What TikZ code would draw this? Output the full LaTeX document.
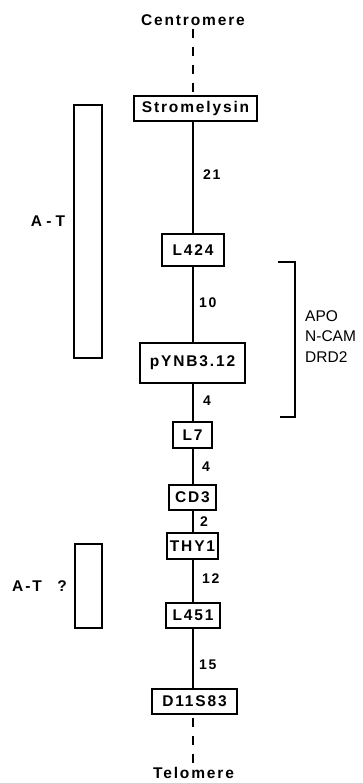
\documentclass[tikz,border=0pt]{standalone}
\usepackage{fontspec}
\setmainfont{Liberation Sans}
\newfontfamily\spaced[LetterSpace=12]{Liberation Sans}
\begin{document}
\begin{tikzpicture}[x=1pt,y=-1pt,
  gene/.style={draw,line width=1.8pt,inner sep=0pt,font=\spaced\bfseries\fontsize{15.5}{18}\selectfont},
  dist/.style={inner sep=0pt,anchor=west,font=\spaced\bfseries\fontsize{14}{16}\selectfont},
  endlbl/.style={inner sep=0pt,font=\spaced\bfseries\fontsize{15.5}{18}\selectfont},
  locus/.style={inner sep=0pt,anchor=west,font=\fontsize{15.5}{18}\selectfont},
  region/.style={draw,line width=1.4pt},
  atlbl/.style={inner sep=0pt,font=\bfseries\fontsize{15.5}{18}\selectfont},
  atsp/.style={inner sep=0pt,font=\spaced\bfseries\fontsize{15.5}{18}\selectfont},
  link/.style={line width=1.4pt},
  dlink/.style={line width=1.8pt,dash pattern=on 9pt off 9pt}]
\useasboundingbox (0,0) rectangle (362,783);
\coordinate (spine) at (193,0);
% end labels
\node[endlbl] (cen) at (193,20) {Centromere};
\node[endlbl] (tel) at (193.5,773) {Telomere};
% loci boxes
\node[gene,minimum width=123pt,minimum height=25pt] (strom) at (195.5,108.5) {Stromelysin};
\node[gene,minimum width=62pt,minimum height=32pt] (l424) at (193,250) {L424};
\node[gene,minimum width=105pt,minimum height=40pt] (pynb) at (192.5,363) {pYNB3.12};
\node[gene,minimum width=39pt,minimum height=26pt] (l7) at (192.5,435) {L7};
\node[gene,minimum width=47pt,minimum height=25pt] (cd3) at (192.5,497.5) {CD3};
\node[gene,minimum width=51pt,minimum height=26pt] (thy1) at (192.5,546) {THY1};
\node[gene,minimum width=54pt,minimum height=25pt] (l451) at (193,615.5) {L451};
\node[gene,minimum width=85pt,minimum height=25pt] (d11) at (194.5,701.5) {D11S83};
% connectors
\draw[dlink] (cen.south -| spine) ++(0,3) coordinate (cs) -- (strom.north -| spine);
\draw[link] (strom.south -| spine) -- (l424.north -| spine);
\draw[link] (l424.south -| spine) -- (pynb.north -| spine);
\draw[link] (pynb.south -| spine) -- (l7.north -| spine);
\draw[link] (l7.south -| spine) -- (cd3.north -| spine);
\draw[link] (cd3.south -| spine) -- (thy1.north -| spine);
\draw[link] (thy1.south -| spine) -- (l451.north -| spine);
\draw[link] (l451.south -| spine) -- (d11.north -| spine);
\draw[dlink] (d11.south -| spine) ++(0,3) coordinate (ds) -- (tel.north -| spine);
% distances
\node[dist] (d1) at (203,175) {21};
\node[dist] (d2) at (199,303) {10};
\node[dist] (d3) at (203,401) {4};
\node[dist] (d4) at (202,467) {4};
\node[dist] (d5) at (200,522) {2};
\node[dist] (d6) at (202,579) {12};
\node[dist] (d7) at (199,665) {15};
% A-T regions
\draw[region] (74,105) rectangle (102,358);
\node[atlbl] (at1) at (48,221) {A - T};
\draw[region] (75,544) rectangle (102,628);
\node[atsp] (at2) at (27,586) {A-T};
\node[atlbl] (q) at (62,586) {?};
% bracket
\draw[link] (278,262) -- (295,262) -- (295,417) -- (280,417);
\node[locus] (apo) at (305,316) {APO};
\node[locus] (ncam) at (305,336.5) {N-CAM};
\node[locus] (drd) at (305,357) {DRD2};
\end{tikzpicture}
\end{document}
